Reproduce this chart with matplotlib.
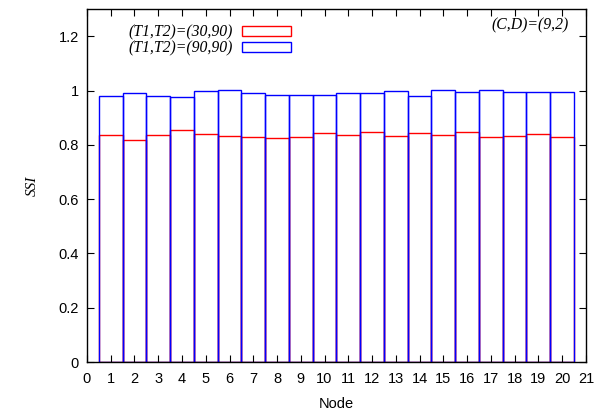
import numpy as np
import matplotlib
matplotlib.use("Agg")
import matplotlib.pyplot as plt
from matplotlib.patches import Patch

plt.rcParams["font.family"] = ["Liberation Sans", "DejaVu Sans"]

# SSI per node
nodes = np.arange(1, 21)
ssi_30_90 = [0.837, 0.819, 0.837, 0.856, 0.841, 0.831, 0.827, 0.825, 0.828, 0.842,
             0.836, 0.849, 0.831, 0.843, 0.835, 0.849, 0.830, 0.831, 0.841, 0.830]
ssi_90_90 = [0.980, 0.990, 0.979, 0.977, 0.998, 1.001, 0.990, 0.983, 0.983, 0.983,
             0.990, 0.990, 0.998, 0.979, 1.001, 0.994, 1.001, 0.994, 0.994, 0.993]
labels = ["(T1,T2)=(30,90)", "(T1,T2)=(90,90)"]

fig = plt.figure(figsize=(6.04, 4.11), dpi=100)
ax = fig.add_axes([0.144, 0.119, 0.826, 0.859])

ax.bar(nodes, ssi_30_90, width=1.0, fill=False, edgecolor="red", linewidth=1.0)
ax.bar(nodes, ssi_90_90, width=1.0, fill=False, edgecolor="blue", linewidth=1.0)

ax.set_xlim(0, 21)
ax.set_ylim(0, 1.3)
ax.set_xticks(range(0, 22))
ax.set_yticks([0, 0.2, 0.4, 0.6, 0.8, 1.0, 1.2])
ax.set_yticklabels(["0", "0.2", "0.4", "0.6", "0.8", "1", "1.2"])
ax.tick_params(direction="in", top=True, right=True, length=5, width=0.8,
               labelsize=10.5)
ax.tick_params(axis="x", pad=7)
ax.tick_params(axis="y", pad=6)
for s in ax.spines.values():
    s.set_linewidth(1.0)

ax.set_xlabel("Node", fontsize=10.5, labelpad=8)
ax.set_ylabel("SSI", fontsize=11, family="Liberation Serif", style="italic",
              labelpad=14)

handles = [Patch(facecolor="none", edgecolor="red", linewidth=1.0),
           Patch(facecolor="none", edgecolor="blue", linewidth=1.0)]
ax.legend(handles, labels, loc="upper left", bbox_to_anchor=(0.055, 0.997),
          frameon=False, markerfirst=False, handlelength=3.1, handleheight=0.58,
          labelspacing=0.0, handletextpad=0.6,
          prop={"family": "Liberation Serif", "style": "italic", "size": 11.3})

ax.text(0.965, 0.955, "(C,D)=(9,2)", transform=ax.transAxes, ha="right", va="center",
        family="Liberation Serif", style="italic", fontsize=11.3)

fig.savefig("out.png", dpi=100)
